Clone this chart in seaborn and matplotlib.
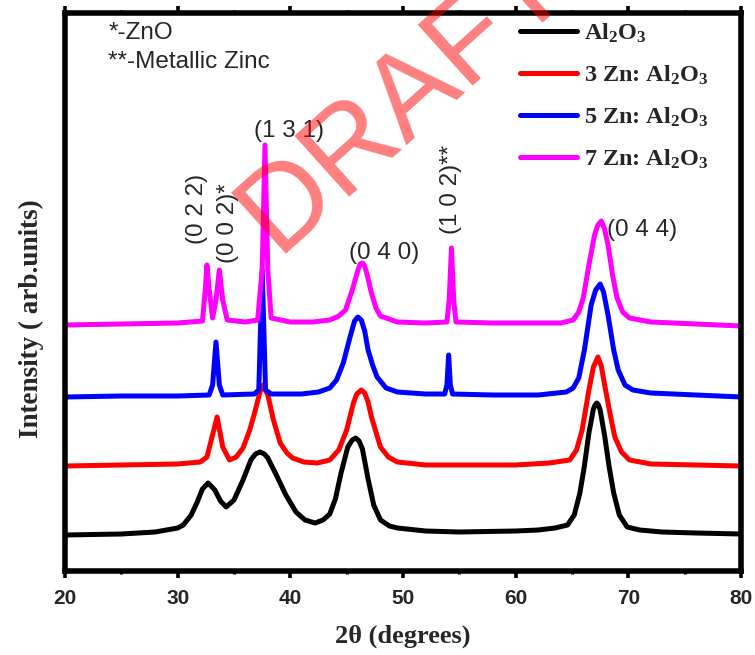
import numpy as np
import pandas as pd
import matplotlib
matplotlib.use("Agg")
import matplotlib.pyplot as plt
from matplotlib.ticker import MultipleLocator
import seaborn as sns

# ---------------- data ----------------
sample_names = ["Al$_2$O$_3$", "3 Zn: Al$_2$O$_3$", "5 Zn: Al$_2$O$_3$", "7 Zn: Al$_2$O$_3$"]
sample_colors = ["#000000", "#ff0000", "#0000ff", "#ff00ff"]

al2o3_2theta = [20, 25, 28, 30, 30.5, 31.2, 31.7, 32.2, 32.7, 33.3, 33.8, 34.3, 35.0, 35.8,
                36.5, 36.9, 37.3, 37.7, 38.0, 38.8, 39.6, 40.5, 41.3, 42.2, 42.9, 43.5, 44.0,
                44.5, 45.1, 45.5, 45.8, 46.1, 46.4, 46.9, 47.4, 48.0, 48.8, 49.5, 52, 55, 60,
                62, 63.5, 64.6, 65.2, 65.7, 66.1, 66.5, 66.9, 67.05, 67.2, 67.35, 67.5, 67.9,
                68.3, 68.7, 69.2, 69.9, 71, 73, 76, 80]
al2o3_int = [36, 37, 39, 43, 46, 56, 68, 82, 88, 81, 70, 64, 71, 91,
             111, 117, 119, 117, 113, 95, 76, 59, 51, 48, 51, 57, 72,
             98, 124, 131, 133, 130, 122, 92, 66, 51, 45, 43, 40, 39, 40,
             41, 43, 46, 56, 78, 105, 138, 162, 166, 168, 166, 161, 135,
             104, 78, 56, 44, 41, 39, 38, 37]

zn3_2theta = [20, 25, 30, 32.0, 32.6, 33.05, 33.5, 34.0, 34.6, 35.2, 35.8, 36.4, 36.9, 37.3,
              37.6, 38.0, 38.5, 39.1, 39.7, 40.2, 41.2, 42.4, 43.5, 44.3, 45.0, 45.6, 45.9,
              46.3, 46.6, 46.9, 47.2, 47.6, 48.0, 48.7, 49.5, 52, 55, 60, 63, 64.8, 65.4,
              65.9, 66.5, 66.9, 67.3, 67.6, 67.9, 68.4, 68.8, 69.4, 70.1, 72, 76, 80]
zn3_int = [105, 106, 107, 109, 114, 134, 154, 124, 111, 114, 123, 141, 161, 179,
           186, 176, 151, 128, 118, 113, 109, 108, 111, 121, 141, 168, 177,
           181, 178, 169, 154, 139, 124, 114, 109, 106, 106, 106, 108, 111, 121,
           141, 181, 204, 214, 205, 186, 156, 134, 119, 111, 107, 106, 105]

zn5_2theta = [20, 25, 30, 32.8, 33.1, 33.4, 33.7, 34.0, 36.8, 37.2, 37.5, 37.8, 38.3, 41,
              42.5, 43.5, 44.1, 44.7, 45.3, 45.7, 46.0, 46.3, 46.6, 46.9, 47.3, 47.7, 48.5,
              49.5, 52, 53.7, 53.9, 54.05, 54.2, 54.4, 58, 62, 64.5, 65.1, 65.6, 66.1, 66.7,
              67.1, 67.5, 67.8, 68.2, 68.7, 69.1, 69.7, 70.4, 72, 76, 80]
zn5_int = [174, 175, 175, 176, 186, 229, 186, 176, 177, 181, 301, 181, 177, 177,
           179, 183, 191, 208, 234, 250, 254, 251, 240, 221, 206, 194, 183,
           179, 177, 177, 186, 216, 186, 177, 176, 176, 179, 183, 193, 221, 266,
           281, 287, 279, 256, 221, 201, 186, 181, 178, 176, 174]

zn7_2theta = [20, 25, 30, 32.2, 32.45, 32.6, 32.8, 33.1, 33.4, 33.7, 34.0, 34.4, 36, 37.1,
              37.5, 37.75, 38.0, 38.3, 40, 42, 43.5, 44.3, 44.9, 45.5, 46.0, 46.2, 46.4,
              46.6, 46.8, 47.2, 47.6, 48.0, 49.5, 52, 53.9, 54.1, 54.3, 54.5, 54.7, 58, 62,
              64, 65.1, 65.6, 66.0, 66.5, 67.0, 67.3, 67.6, 67.9, 68.2, 68.6, 69.0, 69.5,
              70.1, 72, 76, 80]
zn7_int = [246, 247, 248, 250, 281, 306, 281, 253, 271, 301, 271, 251, 249, 251,
           301, 426, 301, 253, 249, 249, 251, 255, 261, 281, 301, 307, 308,
           305, 297, 278, 263, 255, 249, 248, 249, 271, 323, 271, 249, 248, 248,
           248, 251, 259, 273, 306, 336, 346, 350, 342, 326, 296, 273, 259,
           253, 249, 247, 245]

peak_labels = ["(0 2 2)", "(0 0 2)*", "(1 3 1)", "(0 4 0)", "(1 0 2)**", "(0 4 4)"]
peak_label_2theta = [31.7, 34.5, 39.9, 48.3, 54.3, 71.2]
peak_label_int = [362, 348, 440, 318, 382, 341]
peak_label_rot = [90, 90, 0, 0, 90, 0]

x_ticks = [20, 30, 40, 50, 60, 70, 80]

# ---------------- build table ----------------
frames = []
for name, xs, ys in zip(sample_names,
                        [al2o3_2theta, zn3_2theta, zn5_2theta, zn7_2theta],
                        [al2o3_int, zn3_int, zn5_int, zn7_int]):
    frames.append(pd.DataFrame({"two_theta": xs, "intensity": ys, "sample": name}))
df = pd.concat(frames, ignore_index=True)

# ---------------- style ----------------
sns.set_theme(style="white")
plt.rcParams["font.family"] = ["Liberation Sans", "DejaVu Sans"]
plt.rcParams["mathtext.fontset"] = "custom"
plt.rcParams["mathtext.rm"] = "Liberation Serif:bold"
plt.rcParams["mathtext.bf"] = "Liberation Serif:bold"
plt.rcParams["mathtext.default"] = "rm"

fig = plt.figure(figsize=(7.55, 6.55), dpi=100)
ax = fig.add_axes([65 / 755, 1 - 571 / 655, (741 - 65) / 755, (571 - 13) / 655])

sns.lineplot(data=df, x="two_theta", y="intensity", hue="sample",
             palette=dict(zip(sample_names, sample_colors)), hue_order=sample_names,
             sort=False, estimator=None, linewidth=3.6, ax=ax,
             solid_joinstyle="round", solid_capstyle="round")

ax.set_xlim(20, 80)
ax.set_ylim(0, 558)
ax.set_xticks(x_ticks)
ax.set_xticklabels([str(t) for t in x_ticks], fontsize=15, fontweight="bold",
                   family=["Liberation Sans"])
ax.xaxis.set_minor_locator(MultipleLocator(5))
ax.set_yticks([])
ax.tick_params(axis="x", which="major", direction="out", length=5, width=2.6,
               bottom=True, top=True, pad=8, color="black")
ax.tick_params(axis="x", which="minor", direction="out", length=2.5, width=2.2,
               bottom=True, top=True, color="black")
for sp in ax.spines.values():
    sp.set_linewidth(4)
    sp.set_color("black")

ax.set_xlabel("2θ (degrees)", fontsize=19, fontweight="bold",
              family=["Liberation Serif"], labelpad=12)
ax.set_ylabel("Intensity ( arb.units)", fontsize=19.5, fontweight="bold",
              family=["Liberation Serif"])
ax.yaxis.set_label_coords(-0.031, 0.453)

# legend
handles, labels = ax.get_legend_handles_labels()
for h in handles:
    h.set_linewidth(3.6)
leg = ax.legend(handles, labels, loc="upper left", bbox_to_anchor=(0.673, 0.985),
                frameon=False, borderpad=0, borderaxespad=0, handlelength=2.35,
                handletextpad=0.3, labelspacing=0.77,
                prop={"family": "Liberation Serif", "weight": "bold", "size": 17.5})

# notes
ax.text(0.064, 0.964, "*-ZnO", transform=ax.transAxes, fontsize=17.5,
        ha="left", va="center")
ax.text(0.064, 0.912, "**-Metallic Zinc", transform=ax.transAxes, fontsize=17.5,
        ha="left", va="center")

for lab, px, py, rot in zip(peak_labels, peak_label_2theta, peak_label_int, peak_label_rot):
    ax.text(px, py, lab, fontsize=17.5, ha="center", va="center", rotation=rot)

# watermark
fig.text(0.535, 0.851, "DRAFT", fontsize=86, color="red", alpha=0.5,
         rotation=42, ha="center", va="center", family=["Liberation Sans"], zorder=10)

fig.savefig("out.png", dpi=100)
